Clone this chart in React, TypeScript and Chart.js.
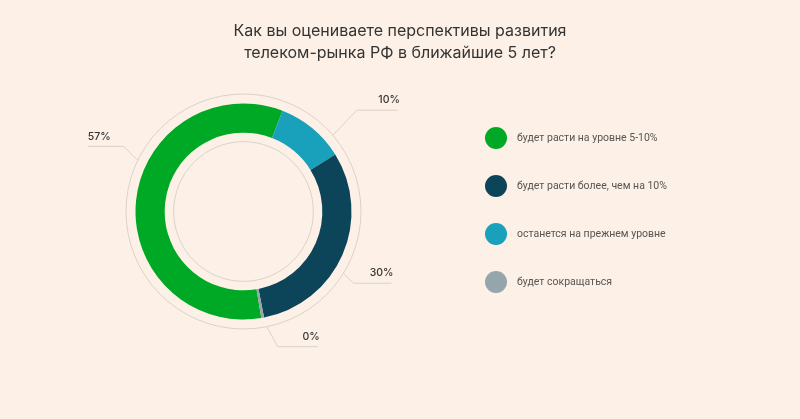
import React, { useEffect, useRef } from "react";
import { Chart, registerables } from "chart.js";

Chart.register(...registerables);

const TITLE_LINES = ["Как вы оцениваете перспективы развития", "телеком-рынка РФ в ближайшие 5 лет?"];

// slice order as drawn clockwise
const SLICE_LABELS = [
  "будет расти на уровне 5-10%",
  "останется на прежнем уровне",
  "будет расти более, чем на 10%",
  "будет сокращаться",
];
const SLICE_VALUES = [57, 10, 30, 0.4];
const SLICE_COLORS = ["#00a925", "#19a0bb", "#0c445a", "#94a5ac"];

// legend order
const LEGEND_ORDER = [0, 2, 1, 3];

const BG = "#fdf0e6";
const LINE = "#d9d2cb";

const LABEL_GEOM = [
  { angle: 295.8, ex: -14, ey: -14, h: -36 },
  { angle: 49.5, ex: 24, ey: -25, h: 41 },
  { angle: 121.7, ex: 10, ey: 10, h: 38 },
  { angle: 168.6, ex: 11, ey: 20, h: 40 },
];

const ringsPlugin = {
  id: "rings",
  afterDatasetsDraw(chart: any) {
    const meta = chart.getDatasetMeta(0);
    const arc = meta.data[0];
    if (!arc) return;
    const { x, y, outerRadius, innerRadius } = arc.getProps(["x", "y", "outerRadius", "innerRadius"], true);
    const ctx = chart.ctx;
    ctx.save();
    ctx.strokeStyle = LINE;
    ctx.lineWidth = 1;
    const ringR = outerRadius + 9.5;
    ctx.beginPath();
    ctx.arc(x, y, ringR, 0, Math.PI * 2);
    ctx.stroke();
    ctx.beginPath();
    ctx.arc(x, y, innerRadius - 9, 0, Math.PI * 2);
    ctx.stroke();

    const data = chart.data.datasets[0].data as number[];
    ctx.font = "500 10.5px Inter, 'Noto Sans', sans-serif";
    ctx.fillStyle = "#333";
    ctx.textBaseline = "middle";
    data.forEach((v, i) => {
      const g = LABEL_GEOM[i];
      const a = (g.angle * Math.PI) / 180;
      const ax = x + ringR * Math.sin(a);
      const ay = y - ringR * Math.cos(a);
      const bx = ax + g.ex;
      const by = ay + g.ey;
      const cx = bx + g.h;
      ctx.beginPath();
      ctx.moveTo(ax, ay);
      ctx.lineTo(bx, by);
      ctx.lineTo(cx, by);
      ctx.stroke();
      const txt = Math.round(v) + "%";
      if (g.h < 0) {
        ctx.textAlign = "left";
        ctx.fillText(txt, cx, by - 10);
      } else {
        ctx.textAlign = "right";
        ctx.fillText(txt, cx + 2, by - 10);
      }
    });
    ctx.restore();
  },
};

export default function App() {
  const ref = useRef<HTMLCanvasElement>(null);
  useEffect(() => {
    document.body.style.margin = "0";
    document.body.style.background = BG;
    const chart = new Chart(ref.current!, {
      type: "doughnut",
      data: {
        labels: SLICE_LABELS,
        datasets: [
          {
            data: SLICE_VALUES,
            backgroundColor: SLICE_COLORS,
            borderWidth: 0,
          },
        ],
      },
      options: {
        responsive: false,
        animation: false,
        rotation: 170.5,
        cutout: "73%",
        layout: { padding: { left: 135.5, right: 448.5, top: 103.5, bottom: 99.5 } },
        plugins: { legend: { display: false }, tooltip: { enabled: false }, title: { display: false } },
      },
      plugins: [ringsPlugin],
    });
    return () => chart.destroy();
  }, []);

  return (
    <div style={{ position: "relative", width: 800, height: 419, background: BG, fontFamily: "Inter, 'Noto Sans', sans-serif" }}>
      <canvas ref={ref} width={800} height={419} style={{ position: "absolute", left: 0, top: 0 }} />
      <div
        style={{
          position: "absolute",
          left: 0,
          top: 19,
          width: 800,
          textAlign: "center",
          fontSize: 16,
          lineHeight: "22px",
          color: "#333",
        }}
      >
        {TITLE_LINES.map((l, i) => (
          <div key={i}>{l}</div>
        ))}
      </div>
      {LEGEND_ORDER.map((idx, k) => (
        <div
          key={idx}
          style={{
            position: "absolute",
            left: 485,
            top: 126.5 + k * 48,
            height: 22,
            display: "flex",
            alignItems: "center",
          }}
        >
          <span
            style={{
              width: 22,
              height: 22,
              borderRadius: "50%",
              background: SLICE_COLORS[idx],
              display: "inline-block",
            }}
          />
          <span style={{ marginLeft: 10, fontSize: 10.5, color: "#555", fontFamily: "Roboto, sans-serif" }}>{SLICE_LABELS[idx]}</span>
        </div>
      ))}
    </div>
  );
}
